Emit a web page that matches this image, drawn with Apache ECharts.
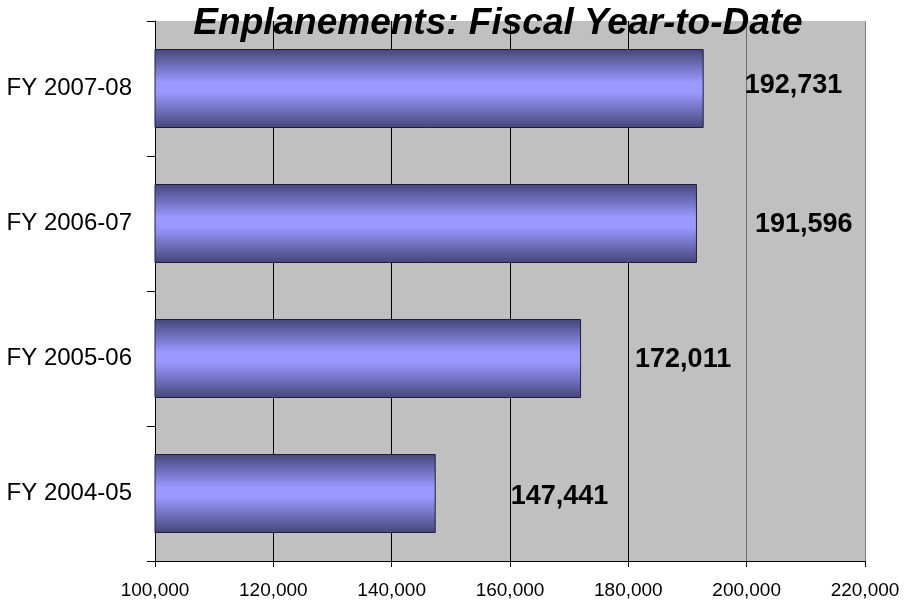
<!DOCTYPE html>
<html>
<head>
<meta charset="utf-8">
<script src="https://cdn.jsdelivr.net/npm/echarts@6/dist/echarts.min.js"></script>
<style>
html,body{margin:0;padding:0;background:#fff;}
#chart{width:907px;height:603px;}
</style>
</head>
<body>
<div id="chart"></div>
<script>
// Data
const categories = ['FY 2004-05', 'FY 2005-06', 'FY 2006-07', 'FY 2007-08'];
const enplanements = [147441, 172011, 191596, 192731];
const titleText = 'Enplanements: Fiscal Year-to-Date';
const xMin = 100000, xMax = 220000, xStep = 20000;

// Style (label offsets, not data)
const labelOffsets = [[75, 3], [54, 1], [58, 1], [41, -3]];

function fmt(n) {
  return String(Math.round(n)).replace(/\B(?=(\d{3})+(?!\d))/g, ',');
}

const FONT = '"Liberation Sans", Arial, Helvetica, sans-serif';
const barColor = new echarts.graphic.LinearGradient(0, 0, 0, 1, [
  { offset: 0, color: '#45457a' },
  { offset: 0.42, color: '#9999ff' },
  { offset: 0.55, color: '#9999ff' },
  { offset: 1, color: '#45457a' }
]);

const chart = echarts.init(document.getElementById('chart'), null, { renderer: 'canvas' });
chart.setOption({
  animation: false,
  backgroundColor: '#ffffff',
  title: {
    text: titleText,
    left: 498,
    top: 5,
    padding: 0,
    textAlign: 'center',
    textStyle: { fontFamily: FONT, fontSize: 37, fontWeight: 'bold', fontStyle: 'italic', color: '#000' }
  },
  grid: {
    left: 155, right: 42, top: 21, bottom: 42,
    show: true, backgroundColor: '#c0c0c0', borderWidth: 0
  },
  xAxis: {
    type: 'value',
    min: xMin, max: xMax, interval: xStep,
    axisLine: { show: true, lineStyle: { color: '#000', width: 1 } },
    axisTick: { show: true, length: 6, lineStyle: { color: '#000' } },
    axisLabel: { fontFamily: FONT, fontSize: 19, color: '#000', margin: 20, formatter: v => fmt(v) },
    splitLine: { show: true, lineStyle: { color: ['#000', '#000', '#000', '#000', '#000', '#6e6e6e', '#808080'], width: 1 } }
  },
  yAxis: {
    type: 'category',
    data: categories,
    axisLine: { show: true, lineStyle: { color: '#000', width: 1 } },
    axisTick: { show: true, length: 8, alignWithLabel: false, lineStyle: { color: '#000' } },
    axisLabel: { fontFamily: FONT, fontSize: 24, color: '#000', margin: 23 }
  },
  series: [{
    type: 'bar',
    barWidth: 79,
    data: enplanements.map((v, i) => ({
      value: v,
      label: { offset: labelOffsets[i] }
    })),
    itemStyle: { color: barColor, borderColor: '#1f1f3a', borderWidth: 1 },
    label: {
      show: true,
      position: 'right',
      distance: 0,
      fontFamily: FONT,
      fontSize: 27,
      fontWeight: 'bold',
      color: '#000',
      formatter: p => fmt(p.value)
    }
  }]
});
</script>
</body>
</html>
